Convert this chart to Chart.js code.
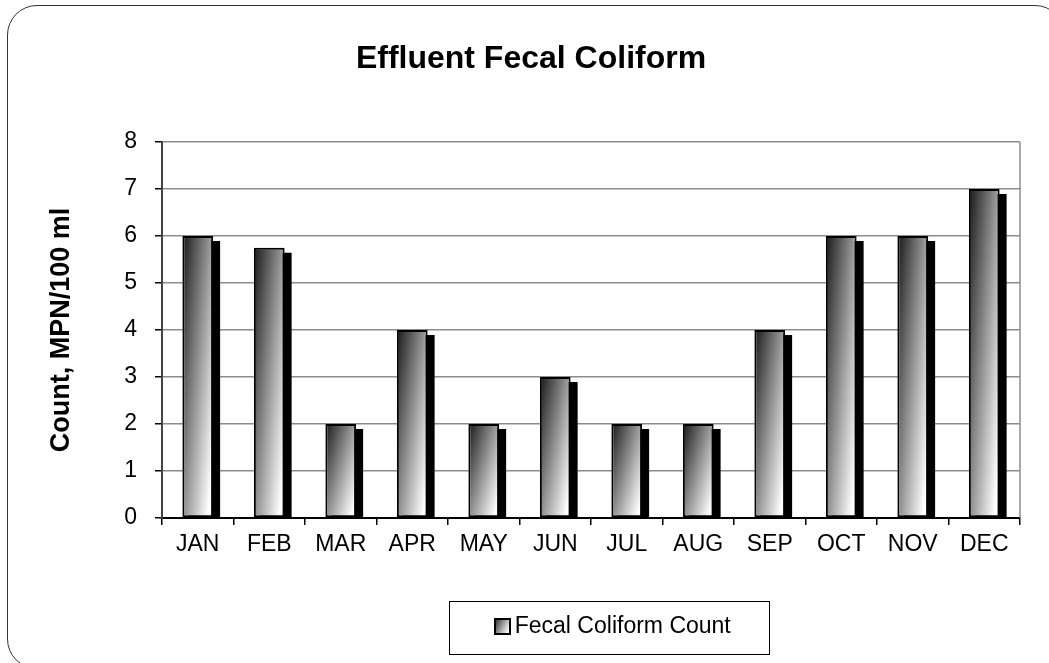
<!DOCTYPE html>
<html>
<head>
<meta charset="utf-8">
<title>Effluent Fecal Coliform</title>
<script src="https://cdn.jsdelivr.net/npm/chart.js@4.4.1/dist/chart.umd.min.js"></script>
<style>
  html, body { margin: 0; padding: 0; background: #fff; overflow: hidden; }
  #wrap { position: relative; width: 1049px; height: 663px; }
  #frame {
    position: absolute; left: 7px; top: 5px; width: 1056px; height: 662px;
    border: 1.5px solid #333; border-radius: 30px; pointer-events: none;
  }
</style>
</head>
<body>
<div id="wrap">
  <canvas id="coliformChart" width="1049" height="663"></canvas>
  <div id="frame"></div>
</div>
<script>
// values
var months = ["JAN", "FEB", "MAR", "APR", "MAY", "JUN", "JUL", "AUG", "SEP", "OCT", "NOV", "DEC"];
var fecalCounts = [6, 5.75, 2, 4, 2, 3, 2, 2, 4, 6, 6, 7];
var yTicks = [0, 1, 2, 3, 4, 5, 6, 7, 8];

var fontName = "'Liberation Sans', Arial, sans-serif";
var barPct = 0.43;
var legendFont = 23;
var legendBox = 14;

function grayGradient(c2d, x0, y0, x1, y1) {
  var g = c2d.createLinearGradient(x0, y0, x1, y1);
  g.addColorStop(0, '#181818');
  g.addColorStop(1, '#ffffff');
  return g;
}

/* bar gradient: dark top-left to light bottom-right */
function barFill(c) {
  var chart = c.chart;
  var area = chart.chartArea;
  if (!area || c.type !== 'data') return '#888888';
  var xs = chart.scales.x, ys = chart.scales.y;
  var cx = xs.getPixelForValue(c.dataIndex);
  var w = (area.right - area.left) / months.length * barPct;
  var left = cx - w / 2;
  var top = ys.getPixelForValue(c.raw);
  var h = ys.getPixelForValue(0) - top;
  if (h < 1) h = 1;
  var gx = 0.6 / w, gy = 0.5 / h, n = gx * gx + gy * gy;
  return grayGradient(chart.ctx, left, top, left + gx / n, top + gy / n);
}

/* black drop shadow behind each bar + right border of plot */
var shadowPlugin = {
  id: 'barShadow',
  beforeDatasetsDraw: function (chart) {
    var ctx = chart.ctx, a = chart.chartArea;
    ctx.save();
    ctx.strokeStyle = '#8c8c8c';
    ctx.lineWidth = 1.5;
    ctx.beginPath();
    ctx.moveTo(a.right, a.top);
    ctx.lineTo(a.right, a.bottom);
    ctx.stroke();
    ctx.beginPath();
    ctx.rect(a.left, a.top, a.right - a.left, a.bottom - a.top);
    ctx.clip();
    ctx.fillStyle = '#000';
    var meta = chart.getDatasetMeta(0);
    for (var i = 0; i < meta.data.length; i++) {
      var el = meta.data[i];
      var left = el.x - el.width / 2;
      ctx.fillRect(left + 6, el.y + 5, el.width + 1, el.base - el.y);
    }
    ctx.restore();
  }
};

/* legend sits right of centre, framed, with gradient marker next to text */
var legendFramePlugin = {
  id: 'legendFrame',
  afterLayout: function (chart) {
    var lg = chart.legend;
    if (!lg) return;
    lg.left += 79;
    lg.right += 79;
  },
  afterDraw: function (chart) {
    var lg = chart.legend;
    if (!lg || !lg.legendHitBoxes || !lg.legendHitBoxes.length) return;
    var hb = lg.legendHitBoxes[0];
    var ctx = chart.ctx;
    var cy = hb.top + hb.height / 2;
    var textLeft = hb.left + legendBox + legendFont / 2;
    var textRight = hb.left + hb.width;
    var bs = 17;
    var bx = Math.round(textLeft - 4 - bs), by = Math.round(cy - bs / 2);
    ctx.save();
    ctx.strokeStyle = '#000';
    ctx.lineWidth = 1;
    ctx.strokeRect(Math.round(bx - 45) + 0.5, Math.round(cy - 26) + 0.5, Math.round(textRight + 38 - bx + 45), 53);
    ctx.fillStyle = '#000';
    ctx.fillRect(bx, by, bs, bs);
    ctx.fillStyle = grayGradient(ctx, bx, by, bx + bs, by + bs * 0.5);
    ctx.fillRect(bx + 2, by + 2, bs - 4, bs - 4);
    ctx.restore();
  }
};

var ctx = document.getElementById("coliformChart");
var myChart = new Chart(ctx, {
  type: 'bar',
  data: {
    labels: months,
    datasets: [{
      label: 'Fecal Coliform Count',
      data: fecalCounts,
      backgroundColor: barFill,
      borderColor: '#000',
      borderWidth: 2,
      borderSkipped: false,
      barPercentage: barPct,
      categoryPercentage: 1
    }]
  },
  options: {
    responsive: false,
    animation: false,
    layout: { padding: { top: 10, left: 42, right: 29, bottom: 15 } },
    plugins: {
      title: {
        display: true,
        text: 'Effluent Fecal Coliform',
        color: '#000',
        font: { family: fontName, size: 32, weight: 'bold' },
        padding: { top: 30, bottom: 63.6 }
      },
      legend: {
        display: true,
        position: 'bottom',
        labels: {
          color: '#000',
          font: { family: fontName, size: legendFont },
          boxWidth: legendBox,
          boxHeight: legendBox,
          padding: 10,
          generateLabels: function (chart) {
            var items = Chart.defaults.plugins.legend.labels.generateLabels(chart);
            items.forEach(function (it) {
              it.fillStyle = 'rgba(0,0,0,0)';
              it.strokeStyle = 'rgba(0,0,0,0)';
              it.lineWidth = 0;
            });
            return items;
          }
        }
      },
      tooltip: { enabled: false }
    },
    scales: {
      x: {
        offset: true,
        grid: { display: true, drawOnChartArea: false, offset: true, tickLength: 7, color: '#000', lineWidth: 1.5 },
        border: { color: '#000', width: 2 },
        ticks: { color: '#000', font: { family: fontName, size: 23 }, padding: 6, maxRotation: 0 },
        afterFit: function (s) { s.height = 87; }
      },
      y: {
        min: 0,
        max: 8,
        afterBuildTicks: function (s) {
          s.ticks = yTicks.map(function (v) { return { value: v }; });
        },
        grid: { color: '#8c8c8c', lineWidth: 1.5, tickLength: 7, tickColor: '#000' },
        border: { color: '#444', width: 2 },
        ticks: { color: '#000', font: { family: fontName, size: 23 }, padding: 18 },
        title: {
          display: true,
          text: 'Count, MPN/100 ml',
          color: '#000',
          font: { family: fontName, size: 27, weight: 'bold' },
          padding: { top: 3, bottom: 4 }
        },
        afterFit: function (s) { s.width = 120; }
      }
    }
  },
  plugins: [shadowPlugin, legendFramePlugin]
});
</script>
</body>
</html>
